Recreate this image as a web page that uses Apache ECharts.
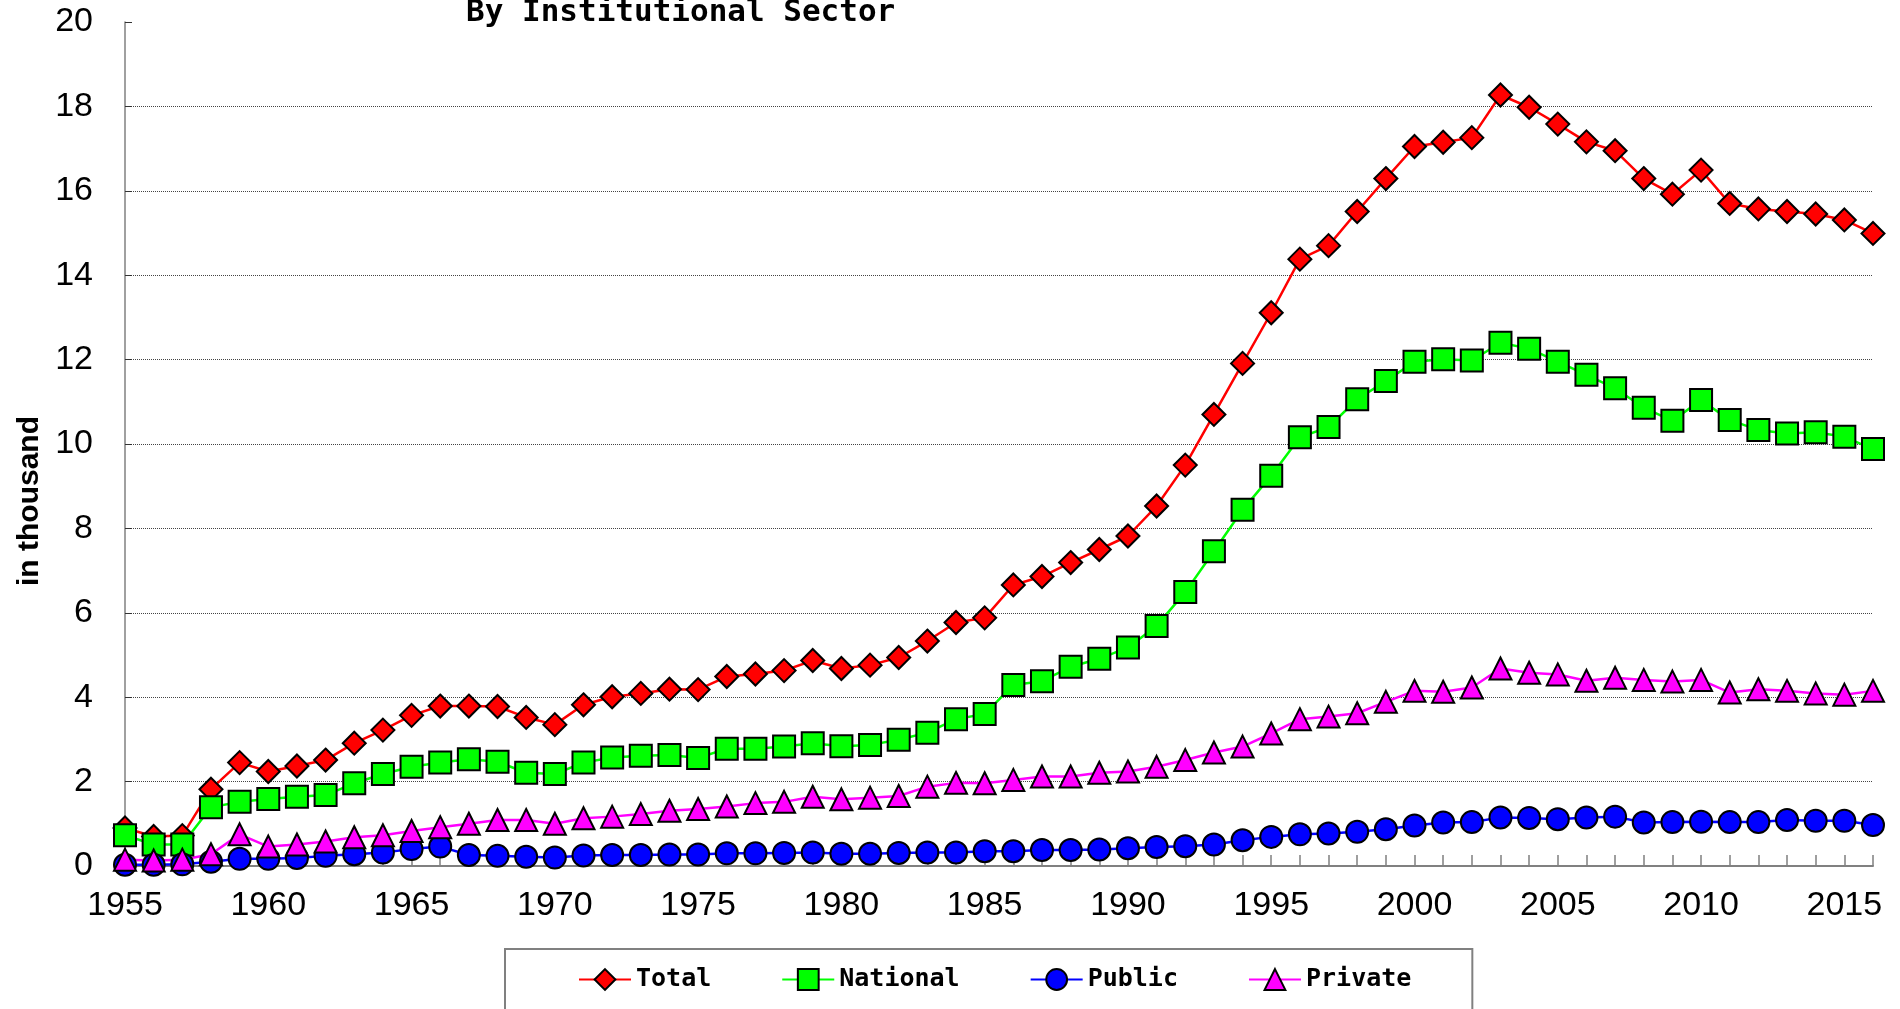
<!DOCTYPE html>
<html>
<head>
<meta charset="utf-8">
<style>
  html, body { margin: 0; padding: 0; background: #ffffff; }
  #chart { width: 1900px; height: 1009px; }
</style>
<script src="https://cdn.jsdelivr.net/npm/echarts@6/dist/echarts.min.js"></script>
</head>
<body>
<div id="chart"></div>
<script>
const years = ['1955','1956','1957','1958','1959','1960','1961','1962','1963','1964',
  '1965','1966','1967','1968','1969','1970','1971','1972','1973','1974',
  '1975','1976','1977','1978','1979','1980','1981','1982','1983','1984',
  '1985','1986','1987','1988','1989','1990','1991','1992','1993','1994',
  '1995','1996','1997','1998','1999','2000','2001','2002','2003','2004',
  '2005','2006','2007','2008','2009','2010','2011','2012','2013','2014',
  '2015','2016'];

const total = [0.9, 0.7, 0.72, 1.82, 2.45, 2.24, 2.37, 2.51, 2.91, 3.22,
  3.57, 3.79, 3.79, 3.78, 3.52, 3.35, 3.82, 4.01, 4.09, 4.19,
  4.18, 4.49, 4.55, 4.63, 4.87, 4.68, 4.76, 4.94, 5.33, 5.77,
  5.88, 6.66, 6.86, 7.19, 7.50, 7.82, 8.53, 9.50, 10.70, 11.91,
  13.11, 14.38, 14.70, 15.51, 16.29, 17.05, 17.15, 17.26, 18.27, 17.98,
  17.58, 17.16, 16.95, 16.29, 15.92, 16.49, 15.70, 15.57, 15.51, 15.45,
  15.31, 14.99];

const national = [0.73, 0.51, 0.51, 1.39, 1.52, 1.59, 1.64, 1.68, 1.96, 2.18,
  2.35, 2.45, 2.53, 2.47, 2.21, 2.18, 2.45, 2.57, 2.61, 2.63,
  2.56, 2.78, 2.78, 2.83, 2.91, 2.84, 2.87, 2.99, 3.16, 3.48,
  3.60, 4.29, 4.38, 4.72, 4.91, 5.18, 5.69, 6.49, 7.46, 8.44,
  9.25, 10.16, 10.40, 11.06, 11.49, 11.95, 12.01, 11.98, 12.40, 12.26,
  11.95, 11.64, 11.32, 10.86, 10.55, 11.04, 10.57, 10.33, 10.25, 10.28,
  10.17, 9.88];

const publicS = [0.03, 0.03, 0.04, 0.10, 0.17, 0.17, 0.19, 0.24, 0.28, 0.32,
  0.40, 0.46, 0.26, 0.24, 0.22, 0.20, 0.25, 0.26, 0.26, 0.27,
  0.27, 0.30, 0.30, 0.31, 0.32, 0.29, 0.29, 0.31, 0.32, 0.32,
  0.35, 0.35, 0.38, 0.38, 0.39, 0.42, 0.45, 0.47, 0.51, 0.61,
  0.69, 0.75, 0.77, 0.81, 0.87, 0.96, 1.03, 1.04, 1.15, 1.14,
  1.11, 1.15, 1.17, 1.03, 1.04, 1.05, 1.04, 1.04, 1.09, 1.07,
  1.07, 0.97];

const privateS = [0.15, 0.13, 0.15, 0.28, 0.75, 0.46, 0.51, 0.58, 0.68, 0.73,
  0.83, 0.92, 1.00, 1.09, 1.09, 1.00, 1.13, 1.17, 1.23, 1.31,
  1.35, 1.41, 1.49, 1.52, 1.64, 1.58, 1.62, 1.66, 1.88, 1.97,
  1.96, 2.04, 2.12, 2.12, 2.21, 2.24, 2.35, 2.51, 2.69, 2.83,
  3.14, 3.48, 3.54, 3.62, 3.89, 4.15, 4.13, 4.23, 4.68, 4.58,
  4.54, 4.39, 4.46, 4.41, 4.37, 4.41, 4.11, 4.19, 4.15, 4.09,
  4.06, 4.15];

const titleText = 'By Institutional Sector';
const yAxisName = 'in thousand';
const seriesNames = ['Total', 'National', 'Public', 'Private'];

const sansFont = "'Liberation Sans', Arial, sans-serif";
const monoFont = "'DejaVu Sans Mono', 'Liberation Mono', monospace";

const chart = echarts.init(document.getElementById('chart'), null, { renderer: 'canvas' });

function mkSeries(name, data, color, symbol, size) {
  return {
    name: name,
    type: 'line',
    data: data,
    symbol: symbol,
    symbolSize: size,
    showAllSymbol: true,
    animation: false,
    lineStyle: { color: color, width: 2.5 },
    itemStyle: { color: color, borderColor: '#000000', borderWidth: 2 },
    emphasis: { disabled: true }
  };
}

const option = {
  backgroundColor: '#ffffff',
  animation: false,
  title: {
    text: titleText,
    left: 466,
    top: -3,
    padding: 0,
    textStyle: {
      fontFamily: monoFont,
      fontSize: 31,
      fontWeight: 'bold',
      color: '#000000'
    }
  },
  legend: {
    data: seriesNames,
    left: 505,
    top: 949,
    padding: [18, 61, 60, 73],
    itemWidth: 52,
    itemHeight: 26,
    itemGap: 70,
    borderColor: '#808080',
    borderWidth: 2,
    textStyle: {
      fontFamily: monoFont,
      fontSize: 25,
      fontWeight: 'bold',
      color: '#000000'
    }
  },
  grid: {
    left: 125,
    right: 27,
    top: 22,
    bottom: 143,
    containLabel: false
  },
  xAxis: {
    type: 'category',
    data: years,
    boundaryGap: false,
    axisLine: { show: true, lineStyle: { color: '#808080', width: 2 } },
    axisTick: {
      show: true,
      inside: true,
      interval: 0,
      length: 11,
      lineStyle: { color: '#808080', width: 1.5 }
    },
    axisLabel: {
      interval: 4,
      margin: 23,
      fontFamily: sansFont,
      fontSize: 34,
      color: '#000000'
    },
    splitLine: { show: false }
  },
  yAxis: {
    type: 'value',
    min: 0,
    max: 20,
    interval: 2,
    name: yAxisName,
    nameLocation: 'middle',
    nameRotate: 90,
    nameGap: 78,
    nameTextStyle: {
      fontFamily: sansFont,
      fontSize: 30,
      fontWeight: 'bold',
      color: '#000000',
      padding: [0, 114, 0, 0]
    },
    axisLine: { show: true, lineStyle: { color: '#808080', width: 1.5 } },
    axisTick: {
      show: true,
      inside: true,
      length: 7,
      lineStyle: { color: '#333333', width: 1 }
    },
    axisLabel: {
      margin: 32,
      fontFamily: sansFont,
      fontSize: 34,
      color: '#000000'
    },
    splitLine: {
      show: true,
      showMinLine: false,
      showMaxLine: false,
      lineStyle: { color: '#444444', width: 1, type: [1, 1] }
    }
  },
  series: [
    mkSeries(seriesNames[0], total, '#ff0000', 'diamond', 23),
    mkSeries(seriesNames[1], national, '#00ff00', 'rect', 22),
    mkSeries(seriesNames[2], publicS, '#0000ff', 'circle', 22),
    mkSeries(seriesNames[3], privateS, '#ff00ff', 'triangle', 22)
  ]
};

chart.setOption(option);
</script>
</body>
</html>
